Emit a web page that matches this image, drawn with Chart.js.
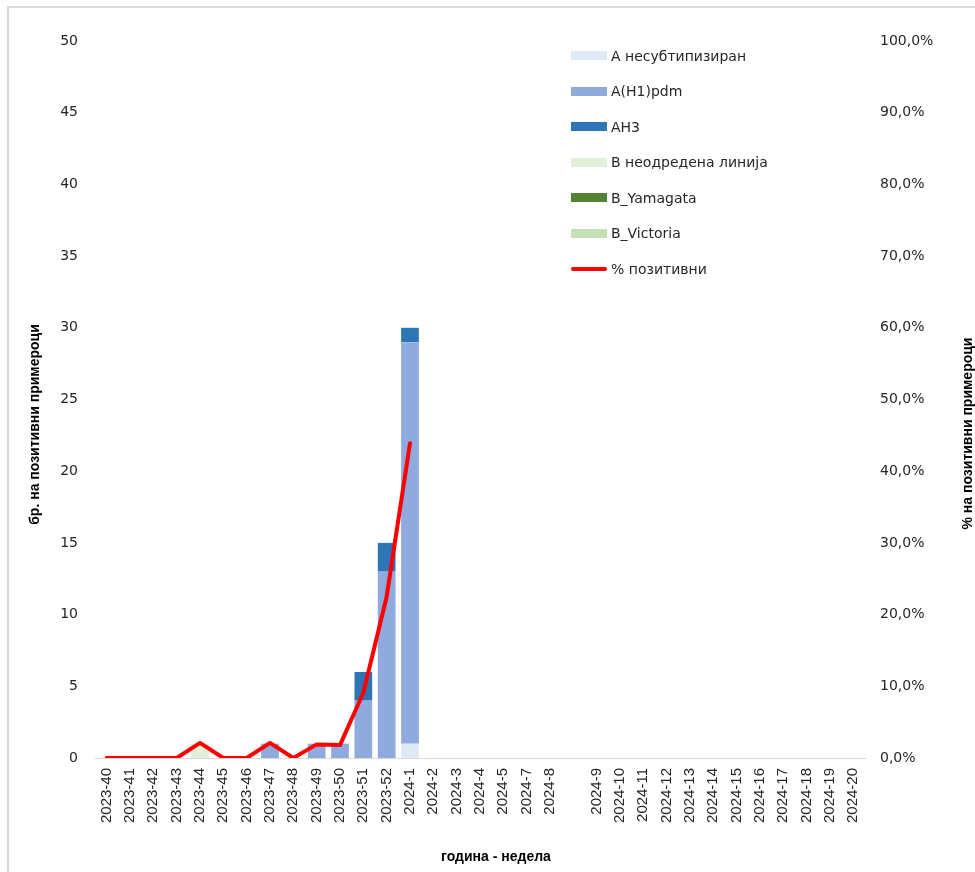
<!DOCTYPE html>
<html><head><meta charset="utf-8">
<script src="https://cdn.jsdelivr.net/npm/chart.js@4.4.1/dist/chart.umd.min.js"></script>
<style>
html,body{margin:0;padding:0;background:#fff;}
#wrap{position:relative;width:975px;height:872px;overflow:hidden;background:#fff;}
#frame{position:absolute;left:7px;top:6px;right:-5px;bottom:-5px;border-left:2px solid #d9d9d9;border-top:2px solid #d9d9d9;}
canvas{position:absolute;left:0;top:0;}
#legend{position:absolute;left:571px;top:38px;font-family:"DejaVu Sans",sans-serif;font-size:14px;color:#262626;}
.row{height:35.5px;display:flex;align-items:center;white-space:nowrap;}
.sw{width:36px;height:9px;margin-right:4px;flex:none;}
.ln{width:36px;height:4px;margin-right:4px;flex:none;border-radius:2px;}
</style></head>
<body><div id="wrap"><div id="frame"></div><canvas id="c" width="975" height="872"></canvas><div id="legend"></div></div>
<script>
const categories = ["2023-40","2023-41","2023-42","2023-43","2023-44","2023-45","2023-46","2023-47","2023-48","2023-49","2023-50","2023-51","2023-52","2024-1","2024-2","2024-3","2024-4","2024-5","2024-7","2024-8","","2024-9","2024-10","2024-11","2024-12","2024-13","2024-14","2024-15","2024-16","2024-17","2024-18","2024-19","2024-20"];
const aUnsubtyped   = [0,0,0,0,0,0,0,0,0,0,0,0,0,1,0,0,0,0,0,0,0,0,0,0,0,0,0,0,0,0,0,0,0];
const aH1pdm        = [0,0,0,0,0,0,0,1,0,1,1,4,13,28,0,0,0,0,0,0,0,0,0,0,0,0,0,0,0,0,0,0,0];
const aH3           = [0,0,0,0,0,0,0,0,0,0,0,2,2,1,0,0,0,0,0,0,0,0,0,0,0,0,0,0,0,0,0,0,0];
const bUndetermined = [0,0,0,0,1,0,0,0,0,0,0,0,0,0,0,0,0,0,0,0,0,0,0,0,0,0,0,0,0,0,0,0,0];
const bYamagata     = [0,0,0,0,0,0,0,0,0,0,0,0,0,0,0,0,0,0,0,0,0,0,0,0,0,0,0,0,0,0,0,0,0];
const bVictoria     = [0,0,0,0,0,0,0,0,0,0,0,0,0,0,0,0,0,0,0,0,0,0,0,0,0,0,0,0,0,0,0,0,0];
const pctPositive   = [0,0,0,0,2.1,0,0,2.1,0,1.9,1.8,9.1,22.5,43.9,null,null,null,null,null,null,null,null,null,null,null,null,null,null,null,null,null,null,null];
const leftTicks = {min:0, max:50, step:5};
const rightTicks = {min:0, max:100, step:10};
const xTitle = 'година - недела';
const yTitle = 'бр. на позитивни примероци';
const y1Title = '% на позитивни примероци';

const barSeries = [
  {label:"А несубтипизиран", data:aUnsubtyped, color:"#DEEBF7"},
  {label:"A(H1)pdm", data:aH1pdm, color:"#8FAADC"},
  {label:"AH3", data:aH3, color:"#2E75B6"},
  {label:"B неодредена линија", data:bUndetermined, color:"#E2F0D9"},
  {label:"B_Yamagata", data:bYamagata, color:"#548235"},
  {label:"B_Victoria", data:bVictoria, color:"#C5E0B4"}
];
const lineSeries = {label:"% позитивни", data:pctPositive, color:"#FF0000"};

const datasets = barSeries.map(s => ({
  type:'bar', label:s.label, data:s.data, backgroundColor:s.color, borderWidth:0,
  yAxisID:'y', stack:'s', order:1, barPercentage:0.76, categoryPercentage:1
}));
datasets.push({
  type:'line', label:lineSeries.label, data:lineSeries.data, borderColor:lineSeries.color,
  backgroundColor:lineSeries.color, borderWidth:4, pointRadius:0, tension:0, yAxisID:'y1', order:0,
  borderCapStyle:'round', borderJoinStyle:'round', spanGaps:false
});

const tickFont = {family:"DejaVu Sans", size:14};
const titleFontCss = 'bold 14px "Liberation Sans", Arial, sans-serif';

// Axis titles drawn rotated bottom-to-top on both sides, as in the reference
const axisTitles = {
  id:'axisTitles',
  afterDraw(chart){
    const ctx = chart.ctx, ca = chart.chartArea;
    const sx = chart.scales.x, sy = chart.scales.y, sy1 = chart.scales.y1;
    ctx.save();
    ctx.font = titleFontCss; ctx.fillStyle = '#000';
    ctx.textAlign = 'center'; ctx.textBaseline = 'middle';
    ctx.fillText(sx.options.title.text, (ca.left + ca.right) / 2 + 16, chart.height - 15);
    const mid = (ca.top + ca.bottom) / 2;
    ctx.save(); ctx.translate(sy.left + 35, mid + 25); ctx.rotate(-Math.PI / 2);
    ctx.fillText(sy.options.title.text, 0, 0); ctx.restore();
    ctx.save(); ctx.translate(sy1.right - 7, mid + 34); ctx.rotate(-Math.PI / 2);
    ctx.fillText(sy1.options.title.text, 0, 0); ctx.restore();
    ctx.restore();
  }
};

new Chart(document.getElementById('c'), {
  data:{labels:categories, datasets:datasets},
  plugins:[axisTitles],
  options:{
    responsive:false, animation:false,
    layout:{padding:{top:41,left:0,right:0,bottom:0}},
    plugins:{legend:{display:false}, tooltip:{enabled:false}},
    scales:{
      x:{
        stacked:true,
        grid:{display:false, drawTicks:false},
        border:{display:true, color:'#d9d9d9', width:1},
        ticks:{minRotation:90, maxRotation:90, autoSkip:false, padding:10, color:'#262626', font:{family:"Liberation Sans", size:15}},
        title:{display:false, text:xTitle},
        afterFit:s => { s.height = 114; }
      },
      y:{
        stacked:true, position:'left', min:leftTicks.min, max:leftTicks.max,
        grid:{display:false, drawTicks:false}, border:{display:false},
        ticks:{stepSize:leftTicks.step, padding:17, color:'#262626', font:tickFont},
        title:{display:false, text:yTitle},
        afterFit:s => { s.width = 95; }
      },
      y1:{
        stacked:false, position:'right', min:rightTicks.min, max:rightTicks.max,
        grid:{display:false, drawTicks:false}, border:{display:false},
        ticks:{stepSize:rightTicks.step, padding:15, color:'#262626', font:tickFont,
          callback:v => v.toFixed(1).replace('.', ',') + '%'},
        title:{display:false, text:y1Title},
        afterFit:s => { s.width = 110; }
      }
    }
  }
});

const legend = document.getElementById('legend');
barSeries.forEach(s => {
  const r = document.createElement('div'); r.className = 'row';
  r.innerHTML = '<span class="sw" style="background:' + s.color + '"></span><span>' + s.label + '</span>';
  legend.appendChild(r);
});
{
  const r = document.createElement('div'); r.className = 'row';
  r.innerHTML = '<span class="ln" style="background:' + lineSeries.color + '"></span><span>' + lineSeries.label + '</span>';
  legend.appendChild(r);
}
</script>
</body></html>
